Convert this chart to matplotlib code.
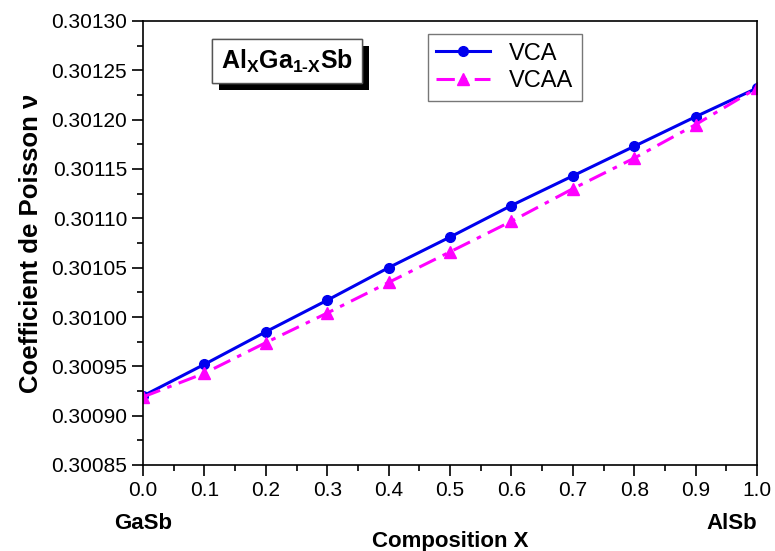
import matplotlib
matplotlib.use("Agg")
import matplotlib.pyplot as plt
import matplotlib.patheffects as pe
from matplotlib.ticker import MultipleLocator, FormatStrFormatter

# Data
composition = [0.0, 0.1, 0.2, 0.3, 0.4, 0.5, 0.6, 0.7, 0.8, 0.9, 1.0]
vca = [0.300920, 0.300952, 0.300985, 0.301017, 0.301050, 0.301081,
       0.301113, 0.301143, 0.301173, 0.301203, 0.301232]
vcaa = [0.300919, 0.300943, 0.300974, 0.301004, 0.301035, 0.301066,
        0.301097, 0.301130, 0.301161, 0.301195, 0.301232]

plt.rcParams['font.family'] = ['Liberation Sans', 'DejaVu Sans']
plt.rcParams['mathtext.fontset'] = 'custom'
plt.rcParams['mathtext.rm'] = 'Liberation Sans:bold'
plt.rcParams['mathtext.it'] = 'Liberation Sans:bold'
plt.rcParams['mathtext.bf'] = 'Liberation Sans:bold'

fig = plt.figure(figsize=(7.75, 5.51), dpi=100)
ax = fig.add_axes([143 / 775, 1 - 465 / 551, 614 / 775, 444 / 551])

ax.plot(composition, vca, color='#0000ee', linewidth=2.2, marker='o',
        markersize=7, label='VCA')
ax.plot(composition, vcaa, color='#ff00ff', linewidth=2.2, linestyle='-.',
        dashes=(6, 2.5, 1.5, 2.5), marker='^', markersize=8, label='VCAA')

ax.set_xlim(0, 1.0)
ax.set_ylim(0.30085, 0.30130)
ax.xaxis.set_major_locator(MultipleLocator(0.1))
ax.xaxis.set_minor_locator(MultipleLocator(0.05))
ax.yaxis.set_major_locator(MultipleLocator(0.00005))
ax.yaxis.set_minor_locator(MultipleLocator(0.000025))
ax.xaxis.set_major_formatter(FormatStrFormatter('%.1f'))
ax.yaxis.set_major_formatter(FormatStrFormatter('%.5f'))
ax.tick_params(which='major', direction='out', length=8, width=1.2,
               labelsize=15, top=False, right=False)
ax.tick_params(which='minor', direction='out', length=4, width=1.2,
               top=False, right=False)
for s in ax.spines.values():
    s.set_linewidth(1.2)

ax.set_xlabel('Composition X', fontsize=16, fontweight='bold', labelpad=22)
ax.set_ylabel('Coefficient de Poisson \u03bd', fontsize=18.5, fontweight='bold',
              labelpad=6)
ax.text(0.0, -0.108, 'GaSb', transform=ax.get_xaxis_transform(),
        ha='center', va='top', fontsize=16, fontweight='bold')
ax.text(1.0, -0.108, 'AlSb', transform=ax.get_xaxis_transform(),
        ha='right', va='top', fontsize=16, fontweight='bold')

title = ax.text(0.2345, 0.91, r'$\mathrm{Al_{X}Ga_{1\text{-}X}Sb}$',
                transform=ax.transAxes, ha='center', va='center', fontsize=18,
                bbox=dict(boxstyle='square,pad=0.35', facecolor='white',
                          edgecolor='#555555', linewidth=1))
title.get_bbox_patch().set_path_effects(
    [pe.withSimplePatchShadow(offset=(5, -5), shadow_rgbFace='black', alpha=1),
     pe.Normal()])

leg = ax.legend(loc='upper left', bbox_to_anchor=(0.464, 0.97), fontsize=17,
                frameon=True, fancybox=False, handlelength=2.3,
                borderpad=0.35, labelspacing=0.25, borderaxespad=0)
leg.get_frame().set_edgecolor('#555555')
leg.get_frame().set_linewidth(1)

fig.savefig('out.png', dpi=100)
